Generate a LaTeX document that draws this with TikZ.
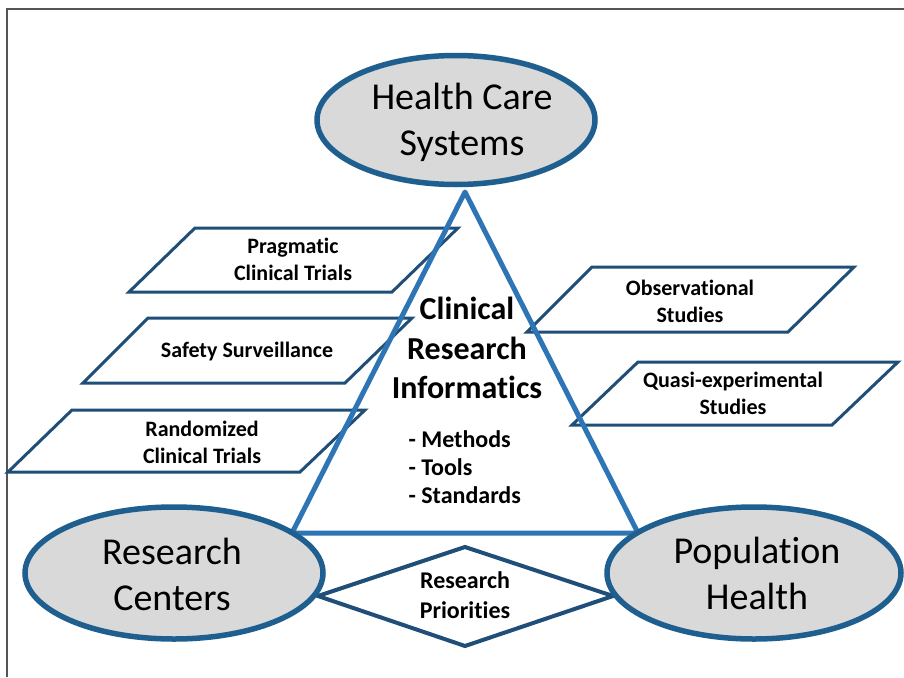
\documentclass[tikz,border=0pt]{standalone}
\usepackage{fontspec}
\setmainfont{Carlito}[RawFeature={-liga;-clig;-calt;-dlig}]
\usetikzlibrary{shapes.geometric}
\definecolor{ellborder}{HTML}{1F5F8F}
\definecolor{ellfill}{HTML}{D9D9D9}
\definecolor{triblue}{HTML}{2E75B6}
\definecolor{boxblue}{HTML}{1F4E79}
\definecolor{framegray}{HTML}{555555}
\tikzset{
  bigell/.style={ellipse, draw=ellborder, fill=ellfill, line width=5.5pt, inner sep=0pt},
  bigtext/.style={align=center, font=\fontsize{38}{46}\selectfont},
  pgram/.style={draw=boxblue, fill=white, line width=3pt, line join=miter},
  pgtext/.style={align=center, font=\bfseries\fontsize{22}{27}\selectfont},
  tri/.style={draw=triblue, line width=5pt, line join=round},
}
\begin{document}
\begin{tikzpicture}[x=1pt,y=-1pt]
\useasboundingbox (0,0) rectangle (904,677);
\fill[white] (0,0) rectangle (904,677);
% frame
\coordinate (fa) at (7,677);
\coordinate (fb) at (7,9);
\coordinate (fc) at (904,9);
\draw[framegray, line width=2pt] (fa) -- (fb) -- (fc);

% left parallelograms
\draw[pgram] (195,228) -- (458,228) -- (392,292) -- (129,292) -- cycle;
\node[pgtext] (prag) at (293,259.5) {Pragmatic\\Clinical Trials};
\draw[pgram] (148,318) -- (412,318) -- (345,383) -- (83,383) -- cycle;
\node[pgtext] (safe) at (247,352) {Safety Surveillance};
\draw[pgram] (72,410) -- (365,410) -- (300,472) -- (8,472) -- cycle;
\node[pgtext] (rand) at (202,442.5) {Randomized\\Clinical Trials};
% right parallelograms
\draw[pgram] (592,267) -- (854,267) -- (788,332) -- (527,332) -- cycle;
\node[pgtext] (obs) at (690,301.5) {Observational\\Studies};
\draw[pgram] (638,362) -- (898,362) -- (832,425) -- (572,425) -- cycle;
\node[pgtext] (quasi) at (733,393.5) {Quasi-experimental\\Studies};

% diamond
\draw[draw=boxblue, fill=white, line width=4pt, line join=miter]
  (465,547) coordinate (dt) -- (613,596) coordinate (dr) -- (465,646) coordinate (db) -- (318,596) coordinate (dl) -- cycle;
\node[align=center, font=\bfseries\fontsize{24}{30}\selectfont] (prio) at (465,595.5) {Research\\Priorities};

% triangle
\coordinate (ta) at (465,192);
\coordinate (tl) at (292,533);
\coordinate (tr) at (638,533);
\draw[tri] (ta) -- (tl) -- (tr) -- cycle;

% center text
\node[align=center, font=\bfseries\fontsize{32}{39.5}\selectfont] (cri) at (467,348) {Clinical\\Research\\Informatics};
\node[align=left, anchor=west, font=\bfseries\fontsize{24}{28}\selectfont] (list) at (405,467.5) {- Methods\\- Tools\\- Standards};

% ellipses
\node[bigell, minimum width=278pt, minimum height=129pt] (hcs) at (456,120) {};
\node[bigtext] (hcst) at (462,122) {Health Care\\Systems};
\node[bigell, minimum width=298pt, minimum height=132pt] (rc) at (174,573) {};
\node[bigtext] (rct) at (172,574) {Research\\Centers};
\node[bigell, minimum width=294pt, minimum height=132pt] (ph) at (754,573) {};
\node[bigtext] (pht) at (757,573) {Population\\Health};
\end{tikzpicture}
\end{document}
